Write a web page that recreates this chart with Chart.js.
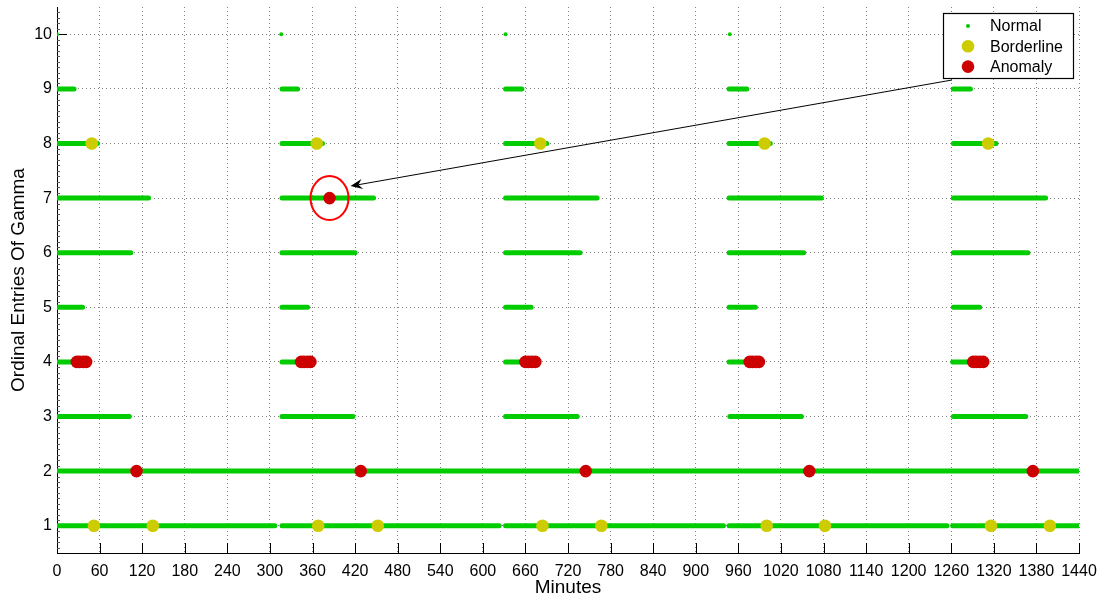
<!DOCTYPE html>
<html>
<head>
<meta charset="utf-8">
<script src="https://cdn.jsdelivr.net/npm/chart.js@4.4.1/dist/chart.umd.min.js"></script>
<style>
  html, body { margin: 0; padding: 0; background: #ffffff; }
  #wrap { width: 1101px; height: 600px; }
</style>
</head>
<body>
<div id="wrap"><canvas id="c" width="1101" height="600"></canvas></div>
<script>
// Axis ticks
const minuteTicks = [0, 60, 120, 180, 240, 300, 360, 420, 480, 540, 600, 660, 720,
  780, 840, 900, 960, 1020, 1080, 1140, 1200, 1260, 1320, 1380, 1440];
const entryTicks = [1, 2, 3, 4, 5, 6, 7, 8, 9, 10];

// Normal readings: continuous runs [start, end] in minutes, one list per entry
const normalRuns1 = [[0, 307], [317, 623], [632, 939], [947, 1254], [1262, 1440]];
const normalRuns2 = [[0, 1440]];
const normalRuns3 = [[0, 102], [317, 417], [632, 733], [948, 1049], [1263, 1365]];
const normalRuns4 = [[0, 40], [317, 354], [632, 671], [947, 986], [1262, 1302]];
const normalRuns5 = [[0, 36], [317, 353], [632, 668], [947, 984], [1263, 1300]];
const normalRuns6 = [[0, 104], [317, 420], [632, 737], [947, 1052], [1263, 1368]];
const normalRuns7 = [[0, 129], [317, 446], [632, 761], [947, 1077], [1263, 1393]];
const normalRuns8 = [[0, 57], [317, 374], [632, 690], [947, 1005], [1263, 1323]];
const normalRuns9 = [[0, 24], [317, 339], [632, 655], [947, 972], [1263, 1287]];
const normalSingles10 = [0, 316, 632, 948];

// Borderline readings (minutes)
const borderlineEntry1 = [52, 135, 368, 452, 684, 767, 1000, 1082, 1316, 1399];
const borderlineEntry8 = [49, 366, 681, 997, 1312];

// Anomalous readings (minutes)
const anomalyEntry2 = [112, 428, 745, 1060, 1375];
const anomalyEntry4 = [28, 32, 37, 41, 344, 348, 353, 357, 660, 664, 669, 674,
  976, 980, 985, 989, 1291, 1295, 1300, 1305];
const anomalyEntry7 = [384];

const seriesNames = ['Normal', 'Borderline', 'Anomaly'];
const colNormal = '#00cc00';
const colBorder = '#cccc00';
const colAnomaly = '#cc0000';
const FONT = '"Liberation Sans", Arial, Helvetica, sans-serif';

const runsByEntry = [normalRuns1, normalRuns2, normalRuns3, normalRuns4, normalRuns5,
  normalRuns6, normalRuns7, normalRuns8, normalRuns9];

const normalLineData = [];
runsByEntry.forEach((runs, i) => {
  const entry = i + 1;
  runs.forEach(([s, e]) => {
    normalLineData.push({ x: s, y: entry }, { x: e, y: entry }, { x: null, y: null });
  });
});
const normalDotData = normalSingles10.map(m => ({ x: m, y: 10 }));

const borderlineData = [
  ...borderlineEntry1.map(m => ({ x: m, y: 1 })),
  ...borderlineEntry8.map(m => ({ x: m, y: 8 }))
];
const anomalyData = [
  ...anomalyEntry2.map(m => ({ x: m, y: 2 })),
  ...anomalyEntry4.map(m => ({ x: m, y: 4 })),
  ...anomalyEntry7.map(m => ({ x: m, y: 7 }))
];
const circledPoint = { x: anomalyEntry7[0], y: 7 };

// Inward tick marks and minor ticks on the left axis, drawn beneath the data
const axisTicks = {
  id: 'axisTicks',
  beforeDatasetsDraw(chart) {
    const { ctx, chartArea: a, scales: { x, y } } = chart;
    ctx.save();
    ctx.strokeStyle = '#000';
    ctx.lineWidth = 1;
    ctx.beginPath();
    minuteTicks.forEach(v => {
      const px = Math.round(x.getPixelForValue(v)) + 0.5;
      ctx.moveTo(px, a.bottom);
      ctx.lineTo(px, a.bottom - 10);
    });
    entryTicks.forEach(v => {
      const py = Math.round(y.getPixelForValue(v)) + 0.5;
      ctx.moveTo(a.left, py);
      ctx.lineTo(a.left + 10, py);
    });
    ctx.stroke();

    ctx.strokeStyle = '#555';
    ctx.beginPath();
    for (let k = 6; k <= 104; k++) {
      if (k % 10 === 0) continue;
      const py = Math.round(y.getPixelForValue(k / 10)) + 0.5;
      ctx.moveTo(a.left, py);
      ctx.lineTo(a.left + 3, py);
    }
    ctx.stroke();
    ctx.restore();
  }
};

// Legend box and the callout around the flagged reading
const overlay = {
  id: 'overlay',
  afterDraw(chart) {
    const { ctx, scales: { x, y } } = chart;
    ctx.save();

    const box = { l: 943.5, t: 13.5, w: 130, h: 65 };
    ctx.fillStyle = '#fff';
    ctx.fillRect(box.l, box.t, box.w, box.h);
    ctx.strokeStyle = '#000';
    ctx.lineWidth = 1.2;
    ctx.strokeRect(box.l, box.t, box.w, box.h);
    const rows = [
      { name: seriesNames[0], color: colNormal, r: 2 },
      { name: seriesNames[1], color: colBorder, r: 6.3 },
      { name: seriesNames[2], color: colAnomaly, r: 6.3 }
    ];
    ctx.font = '16px ' + FONT;
    ctx.textBaseline = 'middle';
    ctx.textAlign = 'left';
    rows.forEach((row, i) => {
      const cy = box.t + 12.5 + i * 20.3;
      ctx.fillStyle = row.color;
      ctx.beginPath();
      ctx.arc(968, cy, row.r, 0, Math.PI * 2);
      ctx.fill();
      ctx.fillStyle = '#000';
      ctx.fillText(row.name, 990, cy + 1);
    });

    const cx = x.getPixelForValue(circledPoint.x);
    const cy = y.getPixelForValue(circledPoint.y);
    ctx.strokeStyle = '#ff0000';
    ctx.lineWidth = 2;
    ctx.beginPath();
    ctx.ellipse(cx, cy, 19, 22, 0, 0, Math.PI * 2);
    ctx.stroke();

    const tail = { x: 952, y: 80 };
    const tip = { x: cx + 21, y: cy - 12 };
    const ang = Math.atan2(tip.y - tail.y, tip.x - tail.x);
    const back = (d, off) => ({
      x: tip.x - d * Math.cos(ang) - off * Math.sin(ang),
      y: tip.y - d * Math.sin(ang) + off * Math.cos(ang)
    });
    ctx.strokeStyle = '#000';
    ctx.lineWidth = 1;
    ctx.beginPath();
    ctx.moveTo(tail.x, tail.y);
    const notch = back(8, 0);
    ctx.lineTo(notch.x, notch.y);
    ctx.stroke();
    const b1 = back(12, 5), b2 = back(12, -5);
    ctx.fillStyle = '#000';
    ctx.beginPath();
    ctx.moveTo(tip.x, tip.y);
    ctx.lineTo(b1.x, b1.y);
    ctx.lineTo(notch.x, notch.y);
    ctx.lineTo(b2.x, b2.y);
    ctx.closePath();
    ctx.fill();
    ctx.restore();
  }
};

new Chart(document.getElementById('c'), {
  type: 'scatter',
  data: {
    datasets: [
      {
        label: seriesNames[2], data: anomalyData,
        pointRadius: 6.3, pointBorderWidth: 0,
        pointBackgroundColor: colAnomaly, pointBorderColor: colAnomaly
      },
      {
        label: seriesNames[1], data: borderlineData,
        pointRadius: 6.3, pointBorderWidth: 0,
        pointBackgroundColor: colBorder, pointBorderColor: colBorder
      },
      {
        label: seriesNames[0], data: normalDotData,
        pointRadius: 2, pointBorderWidth: 0,
        pointBackgroundColor: colNormal, pointBorderColor: colNormal
      },
      {
        label: seriesNames[0], data: normalLineData,
        showLine: true, spanGaps: false, pointRadius: 0,
        borderColor: colNormal, borderWidth: 5, borderCapStyle: 'round'
      }
    ]
  },
  options: {
    responsive: false,
    animation: false,
    events: [],
    layout: { padding: { left: 0, top: 7, right: 22, bottom: 0 } },
    plugins: { legend: { display: false }, tooltip: { enabled: false } },
    scales: {
      x: {
        type: 'linear', min: 0, max: 1440,
        afterBuildTicks: s => { s.ticks = minuteTicks.map(v => ({ value: v })); },
        afterFit: s => { s.height = 47; s.paddingLeft = 0; s.paddingRight = 0; },
        grid: { color: 'rgba(0,0,0,0.5)', lineWidth: 1, drawTicks: false },
        border: { display: true, color: '#000', width: 1, dash: [1, 3] },
        ticks: { autoSkip: false, maxRotation: 0, padding: 9, color: '#000',
          font: { family: FONT, size: 16 }, callback: v => String(v) },
        title: { display: true, text: 'Minutes', color: '#000',
          font: { family: FONT, size: 19 }, padding: { top: 0, bottom: 1 } }
      },
      y: {
        type: 'linear', min: 0.5, max: 10.5,
        afterBuildTicks: s => { s.ticks = entryTicks.map(v => ({ value: v })); },
        afterFit: s => { s.width = 57; s.paddingTop = 0; s.paddingBottom = 0; },
        grid: { color: 'rgba(0,0,0,0.5)', lineWidth: 1, drawTicks: false },
        border: { display: true, color: '#000', width: 1, dash: [1, 3] },
        ticks: { padding: 5, color: '#000', font: { family: FONT, size: 16 },
          callback: v => String(v) },
        title: { display: true, text: 'Ordinal Entries Of Gamma', color: '#000',
          font: { family: FONT, size: 19 }, padding: { top: 7, bottom: 0 } }
      }
    }
  },
  plugins: [axisTicks, overlay]
});
</script>
</body>
</html>
